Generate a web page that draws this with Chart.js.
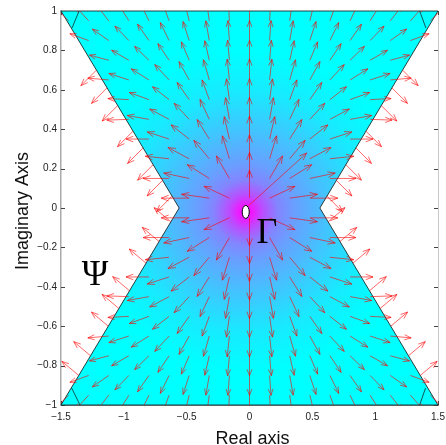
<!DOCTYPE html>
<html><head><meta charset="utf-8">
<script src="https://cdn.jsdelivr.net/npm/chart.js@4/dist/chart.umd.min.js"></script>
<style>html,body{margin:0;padding:0;background:#fff}</style>
</head><body>
<canvas id="c" width="446" height="445"></canvas>
<script>
// ---- axis ticks ----
const xTicks = [-1.5, -1, -0.5, 0, 0.5, 1, 1.5];
const xTickLabels = ['\u22121.5', '\u22121', '\u22120.5', '0', '0.5', '1', '1.5'];
const yTicks = [-1, -0.8, -0.6, -0.4, -0.2, 0, 0.2, 0.4, 0.6, 0.8, 1];
const yTickLabels = ['\u22121', '\u22120.8', '\u22120.6', '\u22120.4', '\u22120.2', '0', '0.2', '0.4', '0.6', '0.8', '1'];
const xTitle = 'Real axis';
const yTitle = 'Imaginary Axis';

// ---- region Psi (bow-tie polygon) ----
const regionX = [-1.5, 1.5, 0.56, 1.5, -1.5, -0.56];
const regionY = [1, 1, 0, -1, -1, 0];

// ---- hole Gamma (small ellipse) ----
const holeX = -0.03, holeY = -0.02, holeRX = 0.028, holeRY = 0.033;

// ---- corner angle marks ----
const cornerX1 = [-1.356, 1.354, -1.349, 1.354];
const cornerY1 = [1, 1, -1, -1];
const cornerX2 = [-1.412, 1.404, -1.415, 1.401];
const cornerY2 = [0.914, 0.914, -0.914, -0.914];

// ---- vector field: grid of arrow tails ----
const gridX = [-1.44,-1.28,-1.12,-0.96,-0.8,-0.64,-0.48,-0.32,-0.16,0,0.16,0.32,0.48,0.64,0.8,0.96,1.12,1.28,1.44];
const gridY = [0.95,0.85,0.75,0.65,0.55,0.45,0.35,0.25,0.15,0.05,-0.05,-0.15,-0.25,-0.35,-0.45,-0.55,-0.65,-0.75,-0.85,-0.95];
const N = null;
// arrow direction on screen, degrees (0 = right, 90 = up)
const angleRows = [
 [135,132,128,122,116,110,104,98,93,90,87,82,76,70,64,58,52,48,45],
 [N,160,145,134,125,116,108,100,94,90,86,80,72,64,55,46,35,20,N],
 [N,N,165,150,136,124,113,103,95,90,85,77,67,56,44,30,15,N,N],
 [N,N,175,162,148,133,119,106,96,90,84,74,61,47,32,18,5,N,N],
 [N,N,N,177,160,142,125,110,98,90,82,70,55,38,20,3,N,N,N],
 [N,N,N,182,170,152,133,115,100,90,80,65,47,28,10,-2,N,N,N],
 [N,N,N,N,180,162,142,122,103,90,77,58,38,18,0,N,N,N,N],
 [N,N,N,N,N,174,152,130,107,90,73,50,28,6,N,N,N,N,N],
 [N,N,N,N,N,180,168,148,120,90,60,32,12,0,N,N,N,N,N],
 [N,N,N,N,N,N,180,172,155,90,25,8,0,N,N,N,N,N,N],
 [N,N,N,N,N,N,-180,-172,-155,-90,-25,-8,0,N,N,N,N,N,N],
 [N,N,N,N,N,-180,-168,-148,-120,-90,-60,-32,-12,0,N,N,N,N,N],
 [N,N,N,N,N,-174,-152,-130,-107,-90,-73,-50,-28,-6,N,N,N,N,N],
 [N,N,N,N,-180,-162,-142,-122,-103,-90,-77,-58,-38,-18,0,N,N,N,N],
 [N,N,N,178,-170,-152,-133,-115,-100,-90,-80,-65,-47,-28,-10,2,N,N,N],
 [N,N,N,-177,-160,-142,-125,-110,-98,-90,-82,-70,-55,-38,-20,-3,N,N,N],
 [N,N,-175,-162,-148,-133,-119,-106,-96,-90,-84,-74,-61,-47,-32,-18,-5,N,N],
 [N,N,-165,-150,-136,-124,-113,-103,-95,-90,-85,-77,-67,-56,-44,-30,-15,N,N],
 [N,-160,-145,-134,-125,-116,-108,-100,-94,-90,-86,-80,-72,-64,-55,-46,-35,-20,N],
 [-135,-132,-128,-122,-116,-110,-104,-98,-93,-90,-87,-82,-76,-70,-64,-58,-52,-48,-45]
];
// arrow length per row, px
const rowLength = [20,20,20,21,21,22,23,24,26,28,28,26,24,23,22,21,21,20,20,20];

// ---- arrows normal to the outer boundary (tails on the slanted edges) ----
const edgeUpperY = [0.06,0.14,0.22,0.305,0.39,0.52,0.61,0.7];
const edgeLowerY = [-0.07,-0.17,-0.28,-0.42,-0.51,-0.6,-0.75,-0.85];
const edgeAngleUL = -135, edgeAngleUR = -45, edgeAngleLL = 140, edgeAngleLR = 40;
const edgeLength = 22;

// ---- special long arrow leaving Gamma ----
const extraTailX = [-0.01], extraTailY = [0.01], extraHeadX = [0.455], extraHeadY = [0.279];

// ---- region labels ----
const labelText = ['\u0393', '\u03A8'];
const labelX = [0.055, -1.335];
const labelY = [-0.178, -0.391];

function edgeX(y) { // |x| of the slanted edges, from the polygon vertices
  const t = Math.abs(y);
  return regionX[2] + (regionX[1] - regionX[2]) * t;
}

const fieldPlugin = {
  id: 'field',
  beforeDatasetsDraw(chart) {
    const ctx = chart.ctx, a = chart.chartArea;
    const sx = chart.scales.x, sy = chart.scales.y;
    const X = v => sx.getPixelForValue(v), Y = v => sy.getPixelForValue(v);
    const seg = (x1, y1, x2, y2) => { ctx.beginPath(); ctx.moveTo(x1, y1); ctx.lineTo(x2, y2); ctx.stroke(); };

    ctx.save();
    // right box line + inward ticks (under the patch)
    ctx.strokeStyle = '#c8c8c8'; ctx.lineWidth = 1;
    seg(a.right + 0.5, a.top, a.right + 0.5, a.bottom);
    ctx.strokeStyle = '#444';
    yTicks.forEach(v => { const p = Math.round(Y(v)) + 0.5; seg(a.left, p, a.left + 4, p); seg(a.right - 4, p, a.right, p); });
    xTicks.forEach(v => { const p = Math.round(X(v)) + 0.5; seg(p, a.bottom, p, a.bottom - 4); seg(p, a.top, p, a.top + 4); });

    // polygon with radial gradient
    const cx = X(holeX), cy = Y(holeY);
    const g = ctx.createRadialGradient(cx, cy, 0, cx, cy, 160);
    g.addColorStop(0, '#ff00ff');
    g.addColorStop(0.05, '#e820ff');
    g.addColorStop(0.11, '#b850ff');
    g.addColorStop(0.2, '#8484ff');
    g.addColorStop(0.3, '#6a9eff');
    g.addColorStop(0.5, '#44c2ff');
    g.addColorStop(0.75, '#18eaff');
    g.addColorStop(1, '#00ffff');
    ctx.beginPath();
    regionX.forEach((vx, i) => { const px = X(vx), py = Y(regionY[i]); i ? ctx.lineTo(px, py) : ctx.moveTo(px, py); });
    ctx.closePath();
    ctx.fillStyle = g; ctx.fill();
    ctx.strokeStyle = '#1a2a2a'; ctx.lineWidth = 0.9; ctx.stroke();

    // corner marks
    ctx.strokeStyle = '#1a2a2a'; ctx.lineWidth = 0.8;
    cornerX1.forEach((v, i) => seg(X(v), Y(cornerY1[i]), X(cornerX2[i]), Y(cornerY2[i])));

    // arrows
    ctx.save();
    ctx.beginPath(); ctx.rect(a.left, a.top, a.right - a.left, a.bottom - a.top); ctx.clip();
    ctx.strokeStyle = 'rgba(255,0,0,0.6)'; ctx.lineWidth = 1;
    const arrowPx = (tx, ty, hx, hy) => {
      const L = Math.hypot(hx - tx, hy - ty);
      const ang = Math.atan2(hy - ty, hx - tx);
      const hl = Math.min(8, 0.34 * L), spread = 0.36;
      ctx.beginPath();
      ctx.moveTo(tx, ty); ctx.lineTo(hx, hy);
      ctx.moveTo(hx - hl * Math.cos(ang - spread), hy - hl * Math.sin(ang - spread));
      ctx.lineTo(hx, hy);
      ctx.lineTo(hx - hl * Math.cos(ang + spread), hy - hl * Math.sin(ang + spread));
      ctx.stroke();
    };
    const arrowAng = (tx, ty, deg, len) => {
      const r = deg * Math.PI / 180;
      arrowPx(tx, ty, tx + len * Math.cos(r), ty - len * Math.sin(r));
    };
    angleRows.forEach((row, i) => {
      row.forEach((deg, j) => { if (deg !== null) arrowAng(X(gridX[j]), Y(gridY[i]), deg, rowLength[i]); });
    });
    edgeUpperY.forEach(y => {
      arrowAng(X(-edgeX(y)), Y(y), edgeAngleUL, edgeLength);
      arrowAng(X(edgeX(y)), Y(y), edgeAngleUR, edgeLength);
    });
    edgeLowerY.forEach(y => {
      arrowAng(X(-edgeX(y)), Y(y), edgeAngleLL, edgeLength);
      arrowAng(X(edgeX(y)), Y(y), edgeAngleLR, edgeLength);
    });
    extraTailX.forEach((v, i) => arrowPx(X(v), Y(extraTailY[i]), X(extraHeadX[i]), Y(extraHeadY[i])));
    ctx.restore();

    // hole Gamma
    const rx = Math.abs(X(holeX + holeRX) - cx), ry = Math.abs(Y(holeY + holeRY) - cy);
    ctx.beginPath(); ctx.ellipse(cx, cy, rx, ry, 0, 0, Math.PI * 2);
    ctx.fillStyle = '#fff'; ctx.fill(); ctx.strokeStyle = '#000'; ctx.lineWidth = 1; ctx.stroke();

    // region labels
    ctx.fillStyle = '#000';
    ctx.font = '36px "Liberation Serif", "DejaVu Serif", serif';
    ctx.textAlign = 'left'; ctx.textBaseline = 'alphabetic';
    labelText.forEach((t, i) => ctx.fillText(t, X(labelX[i]), Y(labelY[i])));

    // axis titles
    ctx.font = '18px "Liberation Sans", Arial, sans-serif';
    ctx.fillStyle = '#111';
    ctx.textAlign = 'center';
    ctx.fillText(xTitle, (a.left + a.right) / 2 + 3, 444);
    ctx.save();
    ctx.translate(28, (a.top + a.bottom) / 2 + 3);
    ctx.rotate(-Math.PI / 2);
    ctx.fillText(yTitle, 0, 0);
    ctx.restore();
    ctx.restore();
  }
};

new Chart(document.getElementById('c'), {
  type: 'scatter',
  data: { datasets: [{ data: [] }] },
  plugins: [fieldPlugin],
  options: {
    responsive: false, animation: false, devicePixelRatio: 1,
    layout: { padding: { top: 11, right: 8, left: 0, bottom: 0 } },
    plugins: { legend: { display: false }, tooltip: { enabled: false } },
    scales: {
      x: {
        type: 'linear', min: -1.5, max: 1.5,
        afterBuildTicks: s => { s.ticks = xTicks.map(v => ({ value: v })); },
        afterFit: s => { s.height = 40; s.paddingLeft = 0; s.paddingRight = 0; },
        ticks: { callback: (v, i) => xTickLabels[i], autoSkip: false, maxRotation: 0, padding: 6,
                 color: '#222', font: { family: 'Liberation Sans', size: 10 } },
        grid: { drawOnChartArea: false, drawTicks: false },
        border: { color: '#888', width: 1 }
      },
      y: {
        type: 'linear', min: -1, max: 1,
        afterBuildTicks: s => { s.ticks = yTicks.map(v => ({ value: v })); },
        afterFit: s => { s.width = 61; s.paddingTop = 0; s.paddingBottom = 0; },
        ticks: { callback: (v, i) => yTickLabels[i], autoSkip: false, padding: 4,
                 color: '#222', font: { family: 'Liberation Sans', size: 10 } },
        grid: { drawOnChartArea: false, drawTicks: false },
        border: { color: '#aaa', width: 1.5 }
      }
    }
  }
});
</script>
</body></html>
